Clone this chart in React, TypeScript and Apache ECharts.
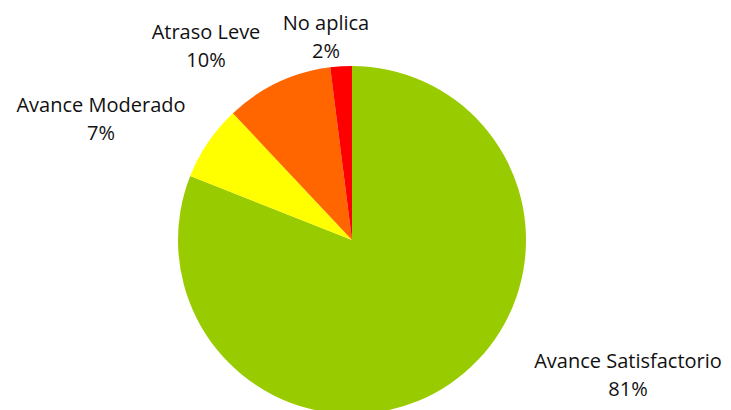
import React, { useEffect, useRef } from "react";
import * as echarts from "echarts";

const categories = ["Avance Satisfactorio", "Avance Moderado", "Atraso Leve", "No aplica"];
const values = [81, 7, 10, 2];
const colors = ["#99CC00", "#FFFF00", "#FF6600", "#FF0000"];
const labelCenters = [
  [628, 374],
  [101, 118],
  [206, 45],
  [326, 36],
];

export default function App() {
  const ref = useRef<HTMLDivElement>(null);
  useEffect(() => {
    document.body.style.margin = "0";
    const chart = echarts.init(ref.current!, null, { renderer: "svg" });
    chart.setOption({
      animation: false,
      backgroundColor: "#FFFFFF",
      series: [
        {
          type: "pie",
          center: [352, 240],
          radius: 174,
          startAngle: 90,
          clockwise: true,
          data: categories.map((c, i) => ({ name: c, value: values[i], itemStyle: { color: colors[i] } })),
          label: {
            show: true,
            position: "outside",
            formatter: "{b}\n{d}%",
            fontFamily: "Open Sans",
            fontSize: 20,
            lineHeight: 28,
            color: "#111111",
            align: "center",
            overflow: "none",
            width: 300,
          },
          labelLine: { show: false },
          labelLayout: (p: any) => ({
            x: labelCenters[p.dataIndex][0],
            y: labelCenters[p.dataIndex][1],
            align: "center",
            verticalAlign: "middle",
          }),
          emphasis: { disabled: true },
        },
      ],
    });
    return () => chart.dispose();
  }, []);
  return <div ref={ref} style={{ width: 731, height: 410 }} />;
}
